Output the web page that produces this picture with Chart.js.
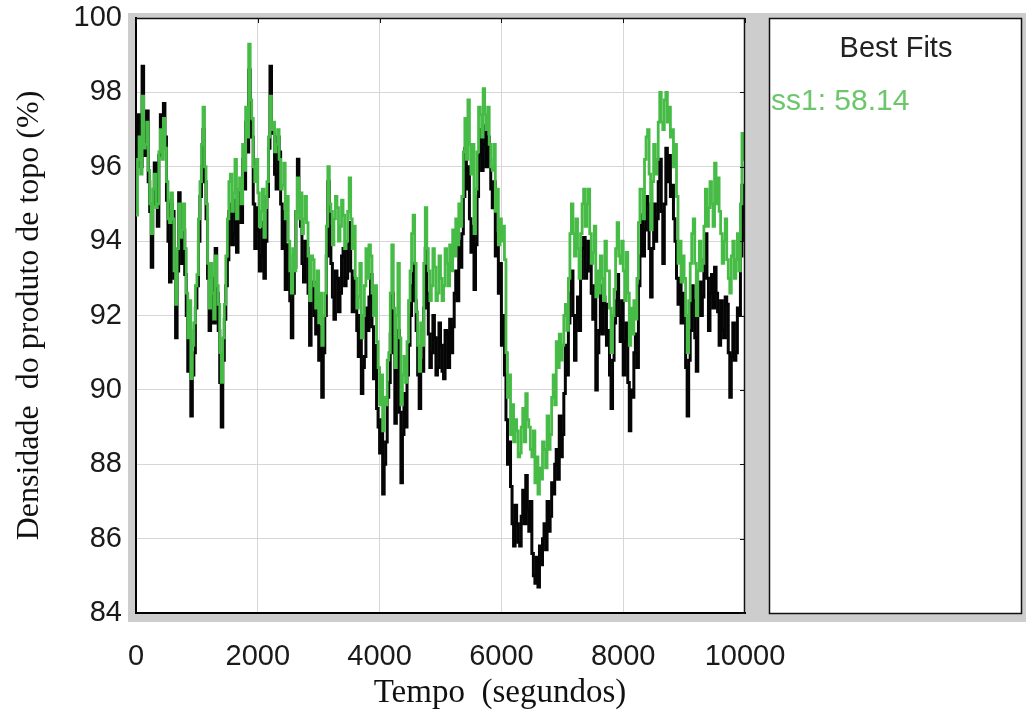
<!DOCTYPE html>
<html>
<head>
<meta charset="utf-8">
<script src="https://cdn.jsdelivr.net/npm/chart.js@4.4.1/dist/chart.umd.min.js"></script>
<style>
  html, body { margin: 0; padding: 0; background: #ffffff; }
  #wrap { position: relative; width: 1026px; height: 718px; }
  #c { position: absolute; left: 0; top: 0; }
  .txt { position: absolute; white-space: pre; }
  #bestTitle { left: 769px; width: 254px; top: 31px; text-align: center;
    font: 29px "Liberation Sans", Arial, sans-serif; color: #222; }
  #bestVal { left: 771px; top: 83px;
    font: 30px "Liberation Sans", Arial, sans-serif; color: #6cc76c; }
  #xTitle { left: 250px; width: 500px; top: 673px; text-align: center;
    font: 33px "Liberation Serif", "Times New Roman", serif; color: #111; }
</style>
</head>
<body>
<div id="wrap">
  <canvas id="c" width="1026" height="718"></canvas>
  <div id="bestTitle" class="txt">Best Fits</div>
  <div id="bestVal" class="txt">ss1: 58.14</div>
  <div id="xTitle" class="txt">Tempo  (segundos)</div>
</div>
<script>
// Sample times (s), one every 25 s
const timeSec = Array.from({length: 401}, (_, i) => i * 25);

// Measured top-product density (%)
const measured = [
  96.0, 97.4, 97.2, 96.0, 98.7, 97.0, 96.3, 97.5, 95.6, 94.8,
  93.3, 95.0, 96.1, 95.2, 94.4, 96.3, 97.4, 96.5, 97.7, 96.8,
  95.1, 94.0, 92.9, 95.0, 94.8, 93.0, 91.4, 93.2, 95.3, 94.0,
  93.4, 94.3, 93.1, 92.0, 90.5, 91.6, 89.3, 90.4, 91.0, 92.2,
  92.8, 94.0, 95.2, 96.0, 97.0, 95.6, 94.6, 93.0, 91.6, 93.0,
  92.8, 91.8, 93.8, 92.6, 91.6, 90.2, 89.0, 90.8, 91.9, 92.8,
  93.5, 94.8, 95.0, 93.9, 94.2, 95.1, 93.7, 94.6, 95.3, 94.5,
  96.2, 95.4, 97.2, 96.4, 98.6, 97.2, 96.8, 95.0, 93.8, 94.9,
  94.3, 93.2, 93.6, 94.5, 93.0, 94.0, 95.2, 96.5, 98.7, 97.0,
  96.9, 95.8, 95.4, 96.8, 96.4, 95.0, 93.8, 94.8, 92.7, 93.9,
  93.6, 92.4, 91.4, 92.6, 93.3, 94.8, 96.2, 95.0, 94.4, 93.4,
  92.9, 94.0, 93.8, 92.6, 91.2, 92.4, 92.9, 92.0, 91.5, 92.4,
  90.8, 91.7, 89.8, 91.0, 92.0, 93.6, 95.6, 94.4, 93.4, 92.5,
  91.9, 93.2, 93.0, 92.1, 92.6, 93.6, 93.8, 92.8, 93.0, 93.9,
  94.5, 93.2, 92.1, 93.0, 92.5, 91.6, 90.9, 92.0, 89.9, 90.6,
  90.9, 92.2, 91.6, 92.5, 93.1, 91.7, 90.3, 91.2, 89.5, 89.0,
  88.3, 89.2, 87.2, 88.0, 88.6, 89.8, 90.2, 91.5, 92.6, 91.0,
  89.1, 90.5, 91.6, 89.4, 87.5, 88.8, 89.9, 89.0, 90.4, 91.2,
  92.0, 92.8, 93.4, 92.4, 91.6, 90.4, 89.5, 90.8, 90.5, 92.2,
  93.8, 92.6, 91.5, 90.6, 91.0, 92.0, 91.4, 90.4, 90.6, 91.8,
  91.2, 90.5, 90.3, 91.6, 91.5, 90.6, 91.9, 91.0, 91.7, 92.6,
  93.2, 92.4, 94.0, 93.3, 94.2, 95.2, 96.5, 95.4, 96.0, 94.6,
  93.7, 94.4, 92.7, 93.9, 95.2, 96.3, 97.0, 95.9, 96.6, 97.1,
  96.0, 96.8, 96.2, 95.4, 94.9, 95.6, 93.6, 94.2, 92.6, 93.4,
  91.2, 92.0, 90.4, 89.2, 88.0, 88.6, 87.4, 86.4, 85.8, 86.9,
  86.4, 85.9, 85.8, 86.6, 87.3, 86.4, 87.7, 86.8, 86.2, 87.0,
  85.6, 85.0, 84.8, 85.5, 84.7, 85.8, 85.3, 86.0, 86.4, 85.7,
  87.0, 86.2, 86.6, 87.5, 87.2, 88.0, 88.4, 87.6, 89.3, 88.2,
  88.8, 89.9, 91.2, 90.4, 91.8, 92.6, 93.2, 92.0, 90.8, 91.9,
  92.5, 91.6, 93.0, 93.8, 94.1, 93.0, 93.2, 94.0, 93.6, 92.6,
  91.9, 92.8, 90.0, 91.0, 91.6, 92.8, 91.5, 92.5, 92.3, 91.2,
  91.6, 90.4, 89.5, 90.8, 91.8, 92.4, 93.1, 92.0, 91.3, 92.4,
  90.4, 91.3, 91.8, 90.2, 88.9, 90.0, 89.8, 91.0, 91.5, 90.6,
  92.8, 93.6, 94.7, 93.6, 94.3, 95.2, 95.0, 93.8, 92.5, 93.8,
  95.0, 94.0, 94.6, 95.6, 96.2, 94.8, 93.4, 95.0, 96.5, 95.6,
  96.3, 95.2, 95.5, 94.6, 94.0, 93.0, 92.3, 93.0, 91.8, 92.6,
  92.0, 90.6, 89.3, 90.8, 91.6, 92.8, 92.4, 91.4, 90.5, 92.0,
  92.9, 92.0, 92.5, 93.5, 94.2, 93.0, 91.6, 92.6, 93.1, 92.2,
  93.3, 92.6, 92.1, 91.2, 92.4, 91.6, 91.4, 92.5, 92.3, 91.0,
  89.8, 90.9, 91.8, 90.8, 91.0, 92.2, 92.0, 93.6, 95.5, 94.6,
  94.0
];

// Best-fit model output (%)
const fitted = [
  94.7, 96.2, 96.8, 95.8, 97.9, 96.5, 96.6, 97.2, 95.9, 95.0,
  94.2, 95.4, 95.8, 94.9, 95.0, 96.4, 97.0, 96.2, 97.3, 96.5,
  95.6, 94.6, 94.5, 95.3, 94.6, 93.2, 92.3, 93.8, 95.0, 94.1,
  94.3, 95.0, 93.8, 92.6, 91.4, 92.4, 90.3, 91.2, 91.8, 92.8,
  93.1, 94.6, 95.6, 96.6, 97.6, 96.0, 95.0, 93.4, 92.2, 93.4,
  92.6, 91.9, 93.6, 92.8, 92.3, 91.0, 90.2, 91.4, 92.3, 93.6,
  94.6, 95.6, 95.8, 94.8, 95.3, 96.2, 94.6, 95.4, 95.7, 95.0,
  96.6, 95.9, 97.6, 96.8, 99.3, 97.8, 97.3, 96.0, 95.6, 96.2,
  95.3, 94.4, 94.8, 95.4, 94.1, 94.9, 95.6, 96.8, 97.9, 97.0,
  97.2, 96.4, 96.6, 97.0, 96.2, 95.4, 95.5, 96.1, 94.6, 95.2,
  94.0, 93.2, 92.6, 93.8, 93.2, 94.8, 95.7, 94.6, 95.3, 94.2,
  94.6, 95.2, 94.5, 93.6, 92.4, 93.6, 93.5, 92.8, 92.2, 93.2,
  91.8, 92.6, 91.2, 92.0, 92.6, 94.4, 96.0, 95.0, 94.8, 93.9,
  94.6, 95.2, 94.9, 94.0, 94.4, 95.1, 94.7, 93.8, 94.0, 94.8,
  95.7, 94.6, 93.8, 94.4, 93.0, 92.2, 92.5, 93.4, 91.4, 92.0,
  92.8, 93.8, 93.0, 93.9, 93.6, 92.6, 92.0, 92.8, 91.3, 90.6,
  89.6, 90.4, 88.9, 89.8, 89.6, 90.8, 91.0, 92.6, 93.9, 92.2,
  90.6, 92.0, 93.4, 91.4, 89.6, 90.4, 90.9, 90.2, 91.3, 92.4,
  93.2, 94.2, 94.7, 93.4, 92.1, 91.2, 90.5, 91.8, 91.2, 93.4,
  94.9, 93.8, 93.2, 92.4, 92.8, 93.8, 93.3, 92.4, 92.6, 93.6,
  93.0, 92.4, 92.8, 93.8, 93.4, 92.8, 93.9, 93.2, 94.3, 93.6,
  94.6, 93.9, 95.0, 94.4, 95.2, 96.4, 97.3, 96.2, 97.8, 96.6,
  95.8, 96.6, 94.2, 95.4, 96.4, 97.6, 97.4, 96.8, 98.1, 97.4,
  97.0, 97.6, 96.6, 96.0, 95.9, 96.6, 94.8, 95.4, 93.9, 94.6,
  94.0, 94.4, 93.5, 91.0, 89.8, 90.4, 88.8, 89.6, 88.6, 89.2,
  88.9, 88.2, 88.3, 89.0, 89.5, 88.6, 89.9, 89.2, 89.0, 88.4,
  88.2, 88.9, 87.5, 88.2, 87.2, 87.9, 87.6, 88.6, 88.4, 87.9,
  89.3, 88.4, 88.8, 89.8, 90.4, 89.6, 91.3, 90.6, 91.5, 90.8,
  91.2, 92.0, 92.3, 91.6, 93.0, 94.2, 95.0, 94.2, 93.6, 94.6,
  93.8, 93.0, 94.2, 95.0, 95.4, 94.4, 95.0, 95.4, 94.2, 93.4,
  93.7, 94.4, 92.5, 93.2, 92.6, 93.6, 93.0, 92.4, 94.0, 93.2,
  93.2, 92.2, 91.0, 92.0, 92.7, 93.8, 94.5, 93.6, 93.4, 94.0,
  93.2, 92.4, 93.7, 92.6, 91.2, 92.2, 91.5, 92.4, 91.9, 93.0,
  94.5, 95.4, 95.4, 94.6, 96.2, 96.8, 97.0, 95.8, 94.3, 95.6,
  96.6, 95.8, 96.2, 97.2, 98.0, 97.2, 97.0, 97.8, 98.0, 97.2,
  97.6, 96.8, 97.0, 96.0, 96.6, 95.2, 93.4, 94.0, 92.9, 93.6,
  93.0, 92.0, 91.0, 92.4, 93.4, 94.2, 94.6, 93.4, 92.0, 93.2,
  94.0, 93.2, 93.4, 94.4, 95.4, 94.4, 94.9, 95.6, 95.0, 94.4,
  96.1, 95.0, 95.7, 94.8, 94.2, 93.4, 94.0, 94.6, 93.5, 93.0,
  92.6, 93.6, 94.0, 93.0, 93.5, 94.2, 93.2, 95.0, 96.9, 96.2,
  96.9
];

const xTicks = [0, 2000, 4000, 6000, 8000, 10000];
const yTicks = [84, 86, 88, 90, 92, 94, 96, 98, 100];

const toPoints = (vals) => vals.map((v, i) => ({x: timeSec[i], y: v}));

// Grey figure frame, white plot box and right-hand "Best Fits" panel
const framePlugin = {
  id: 'frame',
  beforeDraw(chart) {
    const {ctx, chartArea: a} = chart;
    ctx.save();
    ctx.fillStyle = '#ffffff';
    ctx.fillRect(0, 0, chart.width, chart.height);
    ctx.fillStyle = '#cdcdcd';
    ctx.fillRect(128, 13, 1026 - 128, 622 - 13);
    ctx.fillStyle = '#ffffff';
    ctx.fillRect(a.left, a.top, a.right - a.left, a.bottom - a.top);
    ctx.fillRect(769, a.top, 1021 - 769, a.bottom - a.top);
    ctx.strokeStyle = '#111';
    ctx.lineWidth = 1.5;
    ctx.strokeRect(769.5, a.top + 0.5, 1021 - 769, a.bottom - a.top);
    ctx.restore();
  },
  afterDatasetsDraw(chart) {
    const {ctx, chartArea: a, scales} = chart;
    ctx.save();
    ctx.strokeStyle = '#111';
    ctx.lineWidth = 1.5;
    ctx.beginPath();
    ctx.moveTo(a.left, a.top + 0.5);
    ctx.lineTo(a.right - 0.5, a.top + 0.5);
    ctx.lineTo(a.right - 0.5, a.bottom);
    ctx.stroke();
    // small inward tick marks on the top and right edges
    ctx.lineWidth = 1;
    ctx.beginPath();
    xTicks.forEach(t => {
      const px = Math.round(scales.x.getPixelForValue(t)) + 0.5;
      ctx.moveTo(px, a.top); ctx.lineTo(px, a.top + 5);
    });
    yTicks.forEach(t => {
      const py = Math.round(scales.y.getPixelForValue(t)) + 0.5;
      ctx.moveTo(a.right, py); ctx.lineTo(a.right - 5, py);
    });
    ctx.stroke();
    ctx.restore();
  }
};

new Chart(document.getElementById('c'), {
  type: 'line',
  data: {
    datasets: [
      {
        label: 'ss1',
        data: toPoints(fitted),
        borderColor: '#46bb46',
        borderWidth: 2.8,
        pointRadius: 0,
        stepped: true,
        order: 0
      },
      {
        label: 'medido',
        data: toPoints(measured),
        borderColor: '#050505',
        borderWidth: 3,
        pointRadius: 0,
        stepped: true,
        order: 1
      }
    ]
  },
  options: {
    responsive: false,
    animation: false,
    devicePixelRatio: 1,
    layout: { padding: { left: 0, top: 18, right: 281, bottom: 0 } },
    plugins: { legend: { display: false }, tooltip: { enabled: false } },
    scales: {
      x: {
        type: 'linear',
        min: 0, max: 10000,
        afterFit(s) { s.height = 105; s.paddingLeft = 0; s.paddingRight = 0; },
        afterBuildTicks(s) { s.ticks = xTicks.map(v => ({value: v})); },
        grid: { color: '#d6d6d6', lineWidth: 1, drawTicks: false },
        border: { color: '#000', width: 2 },
        ticks: {
          padding: 27, color: '#1a1a1a', maxRotation: 0,
          callback: (v) => String(v),
          font: { family: '"Liberation Sans", Arial, sans-serif', size: 29 }
        }
      },
      y: {
        min: 84, max: 100,
        afterFit(s) { s.width = 136; s.paddingTop = 0; s.paddingBottom = 0; },
        afterBuildTicks(s) { s.ticks = yTicks.map(v => ({value: v})); },
        grid: { color: '#d6d6d6', lineWidth: 1, drawTicks: false },
        border: { color: '#000', width: 2 },
        ticks: {
          padding: 14, color: '#1a1a1a',
          callback: (v) => String(v),
          font: { family: '"Liberation Sans", Arial, sans-serif', size: 29 }
        },
        title: {
          display: true,
          text: 'Densidade  do produto de topo (%)',
          color: '#111',
          padding: { top: 10, bottom: 0 },
          font: { family: '"Liberation Serif", "Times New Roman", serif', size: 32 }
        }
      }
    }
  },
  plugins: [framePlugin]
});
</script>
</body>
</html>
